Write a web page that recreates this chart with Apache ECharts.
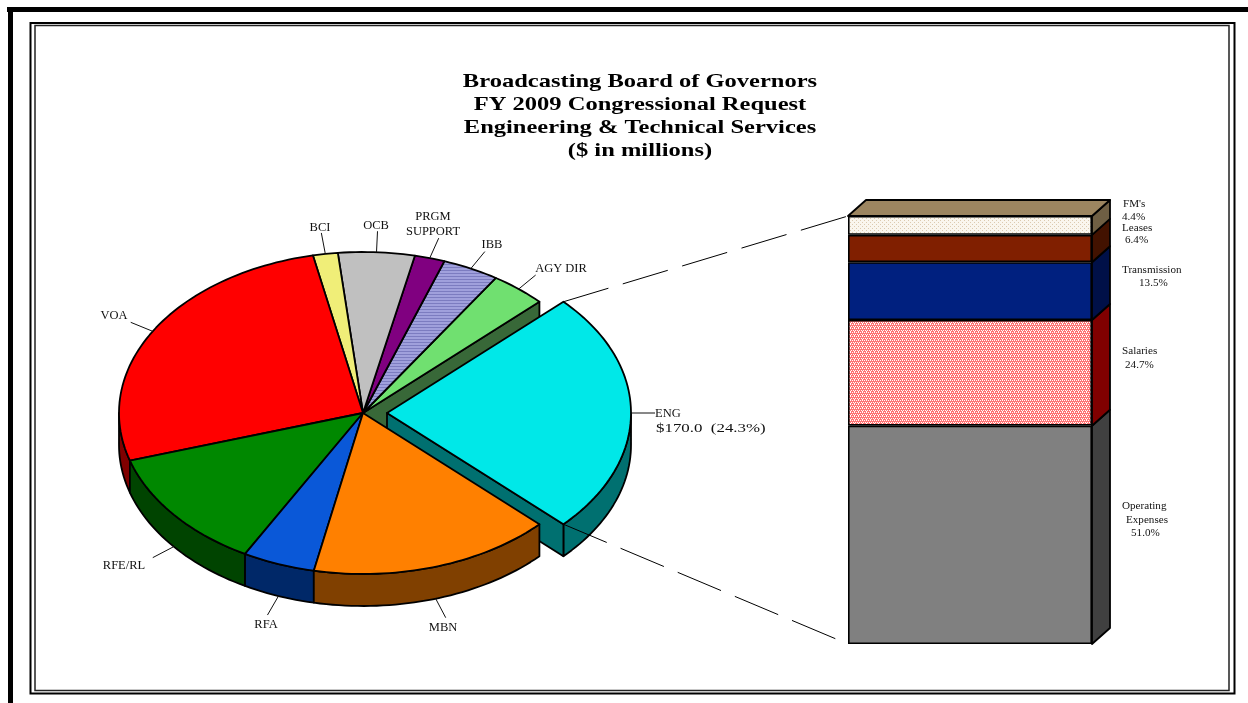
<!DOCTYPE html>
<html><head><meta charset="utf-8">
<style>html,body{margin:0;padding:0;background:#fff}#c{width:1248px;height:703px}</style>
<script src="https://cdn.jsdelivr.net/npm/echarts@6/dist/echarts.min.js"></script>
</head><body><div id="c"></div>
<script>
// ---- data ($ millions; ENG is centred on the right) ----
const pieNames  = ['ENG','AGY DIR','IBB','PRGM\nSUPPORT','OCB','BCI','VOA','RFE/RL','RFA','MBN'];
const pieValues = [170.0, 25.9, 26.3, 14.0, 35.4, 11.5, 185.5, 85.4, 33.6, 112.7];
const engLabel  = '$170.0  (24.3%)';
const barNames  = ['Operating\nExpenses','Salaries','Transmission','Leases',"FM's"];
const barValues = [51.0, 24.7, 13.5, 6.4, 4.4];
const titleLines = ['Broadcasting Board of Governors','FY 2009 Congressional Request','Engineering & Technical Services','($ in millions)'];

// ---- style / layout ----
const SERIF = '"Liberation Serif","Times New Roman",serif';
function pattern(size, bg, fg, cells){
  const c=document.createElement('canvas'); c.width=c.height=size;
  const g=c.getContext('2d'); g.fillStyle=bg; g.fillRect(0,0,size,size); g.fillStyle=fg;
  cells.forEach(p=>g.fillRect(p[0],p[1],1,1));
  return {image:c,repeat:'repeat'};
}
const ibbFill = pattern(3,'#a0a0dc','#7c7cc0',[[0,0],[1,0],[2,0]]);
const salFill = pattern(4,'#ff7474','#ffffff',[[0,0],[2,0],[1,2],[3,2],[2,3]]);
const fmFill  = pattern(4,'#faf6ee','#dccab0',[[0,0],[2,2]]);
const topColors  = ['#00e8e8','#70e070',ibbFill,'#800080','#c0c0c0','#f0ee78','#ff0000','#008800','#0a58d8','#ff8000'];
const wallColors = ['#007070','#386838','#505078','#400040','#606060','#78773c','#800000','#004400','#002868','#804000'];
const barColors  = ['#808080',salFill,'#00207f','#801f00',fmFill];
const barSides   = ['#404040','#800000','#001048','#421200','#6f5f44'];
const barTop     = '#9c8560';
const PIE = {left:119, top:252, w:488, h:322};
const BAR = {left:848, top:216, w:244, h:428, dx:18, dy:-16};
const DEPTH = 32/161, EXPLODE = 24/244;
const leaderOff = [[24,0],[17,-14],[14,-17],[9,-20],[1,-21],[-4,-21],[-22,-9],[-21,11],[-11,19],[10,19]];
const pieLabelPos = [null,[561,269],[492,245],[433,224.5],[376,226],[320,228],[114,316],[124,566],[266,625],[443,628]];
const barLabelPos = [[[1122,506],[1126,520],[1131,533]],[[1122,351],[1125,365]],[[1122,270],[1139,283]],[[1122,228],[1125,240]],[[1123,204],[1122,217]]];

// ---- slice angles from the values, ENG centred on 0 ----
const total = pieValues.reduce((a,b)=>a+b,0);
const angles=[]; let acc=-pieValues[0]/total*180;
pieValues.forEach(v=>{const s=acc; acc+=v/total*360; angles.push([s,acc]);});
const rad=d=>d*Math.PI/180;
function arcPts(api,a,b,ox,oy){
  const n=Math.max(2,Math.ceil(Math.abs(b-a)/1.5)),pts=[];
  for(let k=0;k<=n;k++){const t=rad(a+(b-a)*k/n);pts.push(api.coord([ox+Math.cos(t),oy+Math.sin(t)]));}
  return pts;
}
const poly=(pts,fill,lw)=>({type:'polygon',shape:{points:pts},style:{fill:fill,stroke:'#000',lineWidth:lw||1.8,lineJoin:'round'}});

// wall clipped to the visible front half
function outerWall(api,i,ox){
  let [a,b]=angles[i];
  if(i===0){b=0;} else {a=Math.max(a,180);}
  if(b<=a) return null;
  const top=arcPts(api,a,b,ox,0), bot=arcPts(api,a,b,ox,-DEPTH).reverse();
  return poly(top.concat(bot),wallColors[i]);
}
function cutWall(api,i,ang,ox){
  const t=rad(ang),c=[ox+Math.cos(t),Math.sin(t)];
  return poly([api.coord([ox,0]),api.coord(c),api.coord([c[0],c[1]-DEPTH]),api.coord([ox,-DEPTH])],wallColors[i]);
}
function topFace(api,i,ox){
  const [a,b]=angles[i];
  return poly([api.coord([ox,0])].concat(arcPts(api,a,b,ox,0)),topColors[i]);
}
// drawing order: rear cut wall, exploded slice, front walls, remaining tops
const drawList=[['cut',1],['wall',0],['cut',0],['top',0]];
[6,7,8,9].forEach(i=>drawList.push(['wall',i]));
[1,2,3,4,5,6,7,8,9].forEach(i=>drawList.push(['top',i]));

function renderPie(params,api){
  const [kind,i]=drawList[params.dataIndex];
  const ox=i===0?EXPLODE:0; let el=null;
  if(kind==='wall') el=outerWall(api,i,ox);
  if(kind==='top')  el=topFace(api,i,ox);
  if(kind==='cut')  el=cutWall(api,i,i===0?angles[0][0]:angles[1][0],ox);
  return el||{type:'group',children:[]};
}
function renderLeaders(params,api){
  const i=params.dataIndex, m=rad((angles[i][0]+angles[i][1])/2), ox=i===0?EXPLODE:0;
  const dep=(i!==0&&Math.sin(m)<0)?DEPTH:0;
  const p=api.coord([ox+Math.cos(m),Math.sin(m)-dep]), o=leaderOff[i];
  return {type:'line',shape:{x1:p[0],y1:p[1],x2:p[0]+o[0],y2:p[1]+o[1]},style:{stroke:'#111',lineWidth:1}};
}
function renderConnector(params,api){
  const t=rad(pieValues[0]/total*180), s=params.dataIndex===0?1:-1;
  const p=api.coord([EXPLODE+Math.cos(t),s*Math.sin(t)]);
  const y=params.dataIndex===0?BAR.top:BAR.top+BAR.h;
  return {type:'line',shape:{x1:p[0],y1:p[1],x2:BAR.left,y2:y},style:{stroke:'#000',lineWidth:1,lineDash:[47,15]}};
}
function renderBarSide(params,api){
  const i=params.dataIndex, w=api.size([1,0])[0];
  let base=0; for(let k=0;k<i;k++) base+=barValues[k];
  const c0=api.coord([0,base]), c1=api.coord([0,base+barValues[i]]), x=c0[0]+w/2;
  const kids=[poly([[x,c0[1]],[x+BAR.dx,c0[1]+BAR.dy],[x+BAR.dx,c1[1]+BAR.dy],[x,c1[1]]],barSides[i])];
  if(i===barValues.length-1){
    const xl=c0[0]-w/2;
    kids.push(poly([[xl,c1[1]],[xl+BAR.dx,c1[1]+BAR.dy],[x+BAR.dx,c1[1]+BAR.dy],[x,c1[1]]],barTop));
  }
  return {type:'group',children:kids};
}

// ---- text ----
function txt(x,y,s,size,opt){
  opt=opt||{};
  return {type:'text',x:x,y:y,scaleX:opt.sx||1,z:20,silent:true,
    style:{text:s,fill:opt.fill||'#111',font:(opt.bold?'bold ':'')+size+'px '+SERIF,textAlign:opt.align||'left',textVerticalAlign:'middle',lineHeight:opt.lh||size}};
}
const texts=[];
const TY=[82,105,128,151];
titleLines.forEach((s,i)=>texts.push(txt(640,TY[i],s,19,{bold:true,align:'center',sx:1.29,fill:'#000'})));
pieNames.forEach((s,i)=>{ if(pieLabelPos[i]) texts.push(txt(pieLabelPos[i][0],pieLabelPos[i][1],s,12.5,{align:'center',lh:15})); });
texts.push(txt(655,414,pieNames[0],12.5));
texts.push(txt(656,429,engLabel,12.5,{sx:1.35}));
barNames.forEach((s,i)=>{
  const lines=s.split('\n').concat([barValues[i].toFixed(1)+'%']);
  lines.forEach((l,k)=>texts.push(txt(barLabelPos[i][k][0],barLabelPos[i][k][1],l,10.5,{sx:1.06})));
});

// ---- frame ----
const frame=[
 {type:'rect',shape:{x:7,y:7,width:1241,height:5},style:{fill:'#000'}},
 {type:'rect',shape:{x:8,y:7,width:5,height:696},style:{fill:'#000'}},
 {type:'rect',shape:{x:30.5,y:23,width:1204,height:670.5},style:{fill:'none',stroke:'#000',lineWidth:2}},
 {type:'rect',shape:{x:35,y:25.5,width:1194,height:665},style:{fill:'none',stroke:'#222',lineWidth:1.5}}
];

const chart=echarts.init(document.getElementById('c'),null,{renderer:'canvas'});
chart.setOption({
  animation:false, backgroundColor:'#fff',
  grid:[
    {left:PIE.left,top:PIE.top,width:PIE.w,height:PIE.h,show:false},
    {left:BAR.left,top:BAR.top,width:BAR.w,height:BAR.h,show:false}
  ],
  xAxis:[
    {type:'value',gridIndex:0,min:-1,max:1,show:false},
    {type:'category',gridIndex:1,data:['ENG'],show:false}
  ],
  yAxis:[
    {type:'value',gridIndex:0,min:-1,max:1,show:false},
    {type:'value',gridIndex:1,min:0,max:100,show:false}
  ],
  series:[
    {type:'custom',name:'Budget pie',xAxisIndex:0,yAxisIndex:0,clip:false,silent:true,renderItem:renderPie,data:drawList.map(()=>[0,0])},
    {type:'custom',name:'Leaders',xAxisIndex:0,yAxisIndex:0,clip:false,silent:true,renderItem:renderLeaders,data:pieValues.map(()=>[0,0])},
  ].concat(barValues.map((v,i)=>({
    type:'bar',name:barNames[i],xAxisIndex:1,yAxisIndex:1,stack:'eng',barWidth:'100%',silent:true,
    data:[v],itemStyle:{color:barColors[i],borderColor:'#000',borderWidth:1.6}
  }))).concat([
    {type:'custom',name:'Bar depth',xAxisIndex:1,yAxisIndex:1,clip:false,silent:true,renderItem:renderBarSide,data:barValues.map(()=>[0,0])},
    {type:'custom',name:'Connectors',xAxisIndex:0,yAxisIndex:0,clip:false,silent:true,z:5,renderItem:renderConnector,data:[[0,0],[0,0]]}
  ]),
  graphic:{elements:frame.concat(texts)}
});
</script></body></html>
